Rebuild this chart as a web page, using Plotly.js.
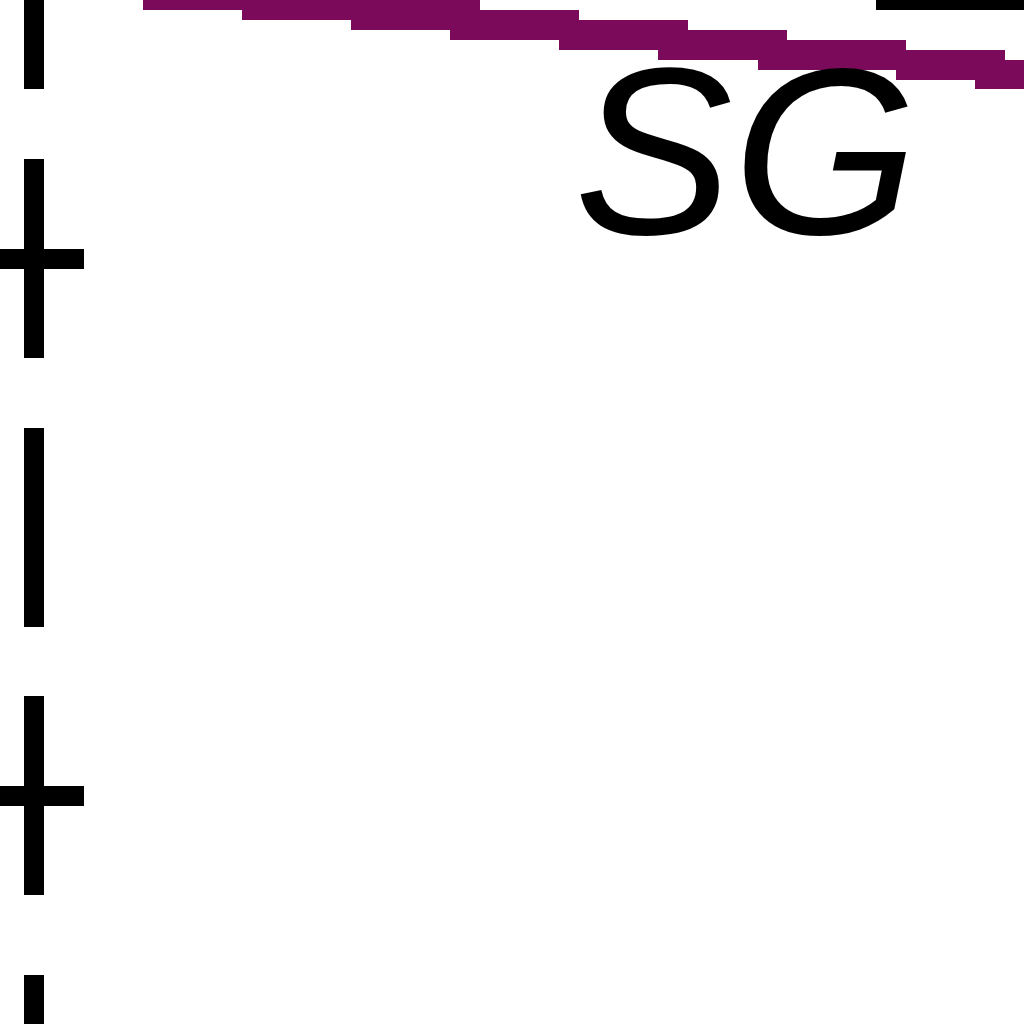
<!DOCTYPE html>
<html>
<head>
<meta charset="utf-8">
<script src="https://cdn.plot.ly/plotly-3.0.1.min.js"></script>
<style>html,body{margin:0;padding:0;background:#fff;}#chart{width:1024px;height:1024px;}</style>
</head>
<body>
<div id="chart"></div>
<script>
// Values (zoomed-in crop of a chart; units are the crop's own scale)
const bandX = [143, 480, 480, 579, 579, 688, 688, 787, 787, 906, 906, 1005, 1005, 1040,
               1040, 975, 975, 896, 896, 758, 758, 658, 658, 559, 559, 450, 450, 351, 351, 242, 242, 143, 143];
const bandY = [-20, -20, 10, 10, 20, 20, 30, 30, 40, 40, 50, 50, 60, 60,
               89, 89, 80, 80, 70, 70, 60, 60, 50, 50, 40, 40, 30, 30, 20, 20, 10, 10, -20];
const dashX = [34, 34, null, 34, 34, null, 34, 34, null, 34, 34, null, 34, 34];
const dashY = [-40, 89, null, 159, 358, null, 428, 627, null, 696, 895, null, 975, 1060];
const tickX = [-10, 84, null, -10, 84];
const tickY = [259, 259, null, 796, 796];
const topLineX = [876, 1040];
const topLineY = [4, 4];
const labelText = 'SG';
const labelX = 746;
const labelY = 151.5;

const traces = [
  {x: bandX, y: bandY, type: 'scatter', mode: 'lines', fill: 'toself',
   fillcolor: '#7b0a5b', line: {color: '#7b0a5b', width: 0}, hoverinfo: 'skip'},
  {x: dashX, y: dashY, type: 'scatter', mode: 'lines',
   line: {color: '#000', width: 20}, hoverinfo: 'skip'},
  {x: tickX, y: tickY, type: 'scatter', mode: 'lines',
   line: {color: '#000', width: 20}, hoverinfo: 'skip'},
  {x: topLineX, y: topLineY, type: 'scatter', mode: 'lines',
   line: {color: '#000', width: 12}, hoverinfo: 'skip'}
];

const layout = {
  width: 1024, height: 1024,
  margin: {l: 0, r: 0, t: 0, b: 0, pad: 0},
  paper_bgcolor: '#fff', plot_bgcolor: '#fff',
  showlegend: false,
  xaxis: {range: [0, 1024], visible: false, fixedrange: true},
  yaxis: {range: [1024, 0], visible: false, fixedrange: true},
  annotations: [{
    x: labelX, y: labelY, xref: 'x', yref: 'y', text: labelText, showarrow: false,
    xanchor: 'center', yanchor: 'middle',
    font: {family: 'Liberation Sans, Arial, sans-serif', size: 238, color: '#000', style: 'italic'}
  }]
};

Plotly.newPlot('chart', traces, layout, {staticPlot: true, displayModeBar: false});
</script>
</body>
</html>
